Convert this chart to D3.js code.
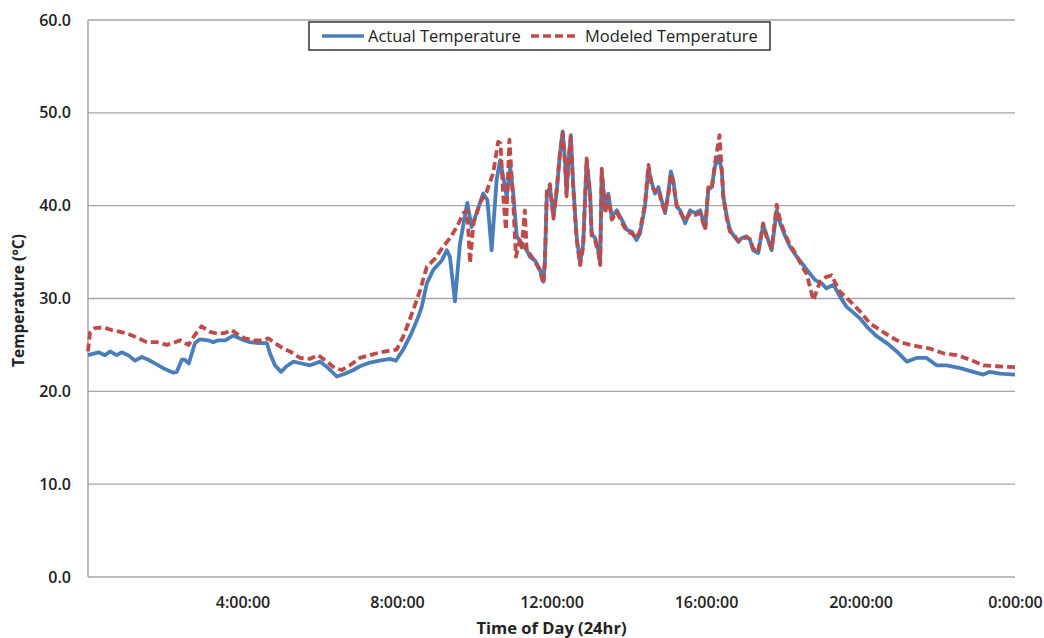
<!DOCTYPE html>
<html>
<head>
<meta charset="utf-8">
<script src="https://cdn.jsdelivr.net/npm/d3@7"></script>
<style>
  body { margin: 0; background: #fff; }
  svg text { font-family: "Open Sans", "DejaVu Sans", sans-serif; fill: #222; }
</style>
</head>
<body>
<svg id="chart" width="1044" height="638"></svg>
<script>
// hours since midnight, temperature in °C
const actualHours = [0, 0.27, 0.44, 0.57, 0.74, 0.87, 1.04, 1.22, 1.39, 1.56, 1.78, 1.99, 2.21, 2.3, 2.43, 2.51, 2.61, 2.77, 2.9, 3.11, 3.24, 3.37, 3.55, 3.76, 3.98, 4.19, 4.41, 4.63, 4.71, 4.84, 5.0, 5.14, 5.32, 5.53, 5.75, 6.01, 6.22, 6.44, 6.65, 6.87, 7.04, 7.3, 7.55, 7.82, 7.97, 8.16, 8.38, 8.55, 8.64, 8.77, 8.94, 9.16, 9.29, 9.37, 9.5, 9.63, 9.82, 9.93, 10.06, 10.23, 10.34, 10.45, 10.58, 10.67, 10.75, 10.84, 10.93, 11.01, 11.1, 11.23, 11.36, 11.44, 11.57, 11.7, 11.79, 11.83, 11.88, 11.96, 12.05, 12.13, 12.22, 12.29, 12.35, 12.39, 12.43, 12.5, 12.56, 12.65, 12.74, 12.82, 12.91, 13.0, 13.04, 13.13, 13.21, 13.26, 13.3, 13.39, 13.47, 13.56, 13.69, 13.82, 13.95, 14.08, 14.2, 14.29, 14.42, 14.51, 14.6, 14.68, 14.77, 14.85, 14.94, 15.02, 15.09, 15.15, 15.24, 15.33, 15.46, 15.59, 15.72, 15.85, 15.98, 16.06, 16.15, 16.23, 16.33, 16.41, 16.45, 16.54, 16.62, 16.71, 16.84, 16.92, 17.05, 17.14, 17.22, 17.35, 17.48, 17.57, 17.7, 17.83, 17.92, 18.05, 18.17, 18.35, 18.48, 18.61, 18.82, 19.0, 19.12, 19.3, 19.47, 19.64, 19.81, 20.0, 20.2, 20.4, 20.68, 20.94, 21.2, 21.45, 21.71, 21.97, 22.23, 22.58, 22.92, 23.18, 23.35, 23.61, 24.0];
const actualTemp = [23.9, 24.2, 23.9, 24.3, 23.9, 24.2, 23.9, 23.3, 23.7, 23.4, 22.9, 22.4, 22.0, 22.1, 23.4, 23.4, 23.0, 25.2, 25.6, 25.5, 25.3, 25.5, 25.5, 26.0, 25.6, 25.3, 25.2, 25.2, 24.1, 22.8, 22.1, 22.7, 23.2, 23.0, 22.8, 23.2, 22.5, 21.6, 21.9, 22.3, 22.7, 23.1, 23.3, 23.5, 23.3, 24.5, 26.3, 28.0, 29.1, 31.6, 33.1, 34.1, 35.2, 34.5, 29.7, 35.9, 40.3, 37.7, 39.2, 41.3, 40.6, 35.2, 42.8, 44.9, 43.1, 41.0, 44.2, 41.3, 36.7, 35.9, 35.2, 34.5, 34.1, 33.1, 31.8, 34.1, 41.3, 42.0, 38.8, 41.3, 45.6, 48.0, 44.9, 41.3, 44.2, 47.6, 42.4, 36.7, 33.8, 35.9, 44.9, 41.3, 37.0, 36.5, 35.2, 33.8, 43.7, 39.5, 41.3, 38.8, 39.5, 38.5, 37.4, 37.2, 36.3, 37.0, 39.9, 44.0, 42.4, 41.3, 42.0, 40.6, 39.2, 41.3, 43.7, 42.8, 39.9, 39.5, 38.1, 39.5, 39.2, 39.5, 37.6, 41.7, 42.0, 44.2, 45.3, 43.8, 41.0, 38.8, 37.4, 36.8, 36.1, 36.5, 36.7, 36.3, 35.2, 34.9, 37.9, 36.8, 35.2, 39.5, 38.1, 36.7, 35.6, 34.5, 33.8, 33.1, 32.0, 31.6, 31.1, 31.5, 30.2, 29.1, 28.5, 27.8, 26.8, 26.0, 25.2, 24.3, 23.2, 23.6, 23.6, 22.8, 22.8, 22.5, 22.1, 21.8, 22.1, 21.9, 21.8];

const modeledHours = [0, 0.05, 0.18, 0.4, 0.61, 0.83, 1.04, 1.26, 1.52, 1.78, 2.04, 2.21, 2.38, 2.6, 2.77, 2.94, 3.16, 3.37, 3.55, 3.72, 3.89, 4.06, 4.28, 4.5, 4.67, 4.84, 5.06, 5.23, 5.49, 5.75, 5.96, 6.18, 6.39, 6.57, 6.78, 7.04, 7.3, 7.56, 7.82, 7.99, 8.16, 8.3, 8.45, 8.6, 8.77, 8.98, 9.2, 9.37, 9.55, 9.72, 9.82, 9.89, 9.98, 10.15, 10.32, 10.49, 10.62, 10.68, 10.75, 10.82, 10.91, 11.0, 11.08, 11.18, 11.23, 11.31, 11.36, 11.44, 11.57, 11.7, 11.79, 11.83, 11.88, 11.96, 12.05, 12.13, 12.22, 12.29, 12.35, 12.39, 12.43, 12.5, 12.56, 12.65, 12.74, 12.82, 12.91, 13.0, 13.04, 13.13, 13.21, 13.26, 13.3, 13.39, 13.47, 13.56, 13.69, 13.82, 13.95, 14.08, 14.2, 14.29, 14.42, 14.51, 14.6, 14.68, 14.77, 14.85, 14.94, 15.02, 15.09, 15.15, 15.24, 15.33, 15.46, 15.59, 15.72, 15.85, 15.98, 16.06, 16.15, 16.23, 16.35, 16.41, 16.45, 16.54, 16.62, 16.71, 16.84, 16.92, 17.05, 17.14, 17.22, 17.35, 17.48, 17.57, 17.7, 17.83, 17.92, 18.05, 18.17, 18.35, 18.48, 18.61, 18.78, 18.95, 19.1, 19.25, 19.47, 19.73, 19.99, 20.25, 20.51, 20.77, 21.03, 21.29, 21.54, 21.8, 22.14, 22.49, 22.84, 23.18, 23.53, 24.0];
const modeledTemp = [24.3, 26.3, 26.8, 26.9, 26.6, 26.4, 26.2, 25.8, 25.3, 25.3, 25.0, 25.2, 25.5, 25.0, 26.1, 27.0, 26.4, 26.2, 26.3, 26.6, 26.1, 25.7, 25.5, 25.5, 25.7, 25.2, 24.6, 24.3, 23.6, 23.5, 23.9, 23.2, 22.5, 22.3, 22.8, 23.6, 23.9, 24.2, 24.4, 24.5, 25.9, 27.4, 29.1, 30.9, 33.4, 34.3, 35.6, 36.5, 37.7, 39.2, 39.5, 33.8, 38.1, 40.3, 41.5, 43.5, 46.9, 46.7, 41.0, 37.4, 47.1, 41.0, 34.5, 36.3, 35.5, 39.5, 35.0, 34.8, 34.0, 33.0, 31.6, 34.0, 41.8, 42.3, 38.6, 41.6, 45.8, 47.8, 44.5, 41.0, 44.5, 47.4, 42.0, 36.4, 33.6, 35.6, 45.1, 41.0, 36.8, 36.2, 35.0, 33.6, 44.0, 39.2, 41.0, 38.5, 39.3, 38.2, 37.2, 37.0, 36.5, 37.3, 40.2, 44.4, 42.0, 41.6, 41.8, 40.3, 39.4, 41.0, 43.4, 42.5, 40.1, 39.3, 38.4, 39.2, 39.0, 39.2, 37.4, 42.0, 41.8, 44.5, 47.6, 43.5, 40.8, 38.6, 37.2, 36.9, 36.2, 36.4, 36.6, 36.4, 35.4, 35.0, 38.1, 36.6, 35.4, 40.1, 38.4, 36.9, 35.8, 34.6, 33.5, 32.6, 29.8, 31.8, 32.3, 32.5, 30.7, 29.7, 28.6, 27.3, 26.6, 25.9, 25.3, 25.0, 24.8, 24.6, 24.1, 23.9, 23.4, 22.8, 22.7, 22.6];

const xTicks = [4, 8, 12, 16, 20, 24];
const xTickLabels = ["4:00:00", "8:00:00", "12:00:00", "16:00:00", "20:00:00", "0:00:00"];
const yTicks = [0, 10, 20, 30, 40, 50, 60];

const svg = d3.select("#chart");
const margin = { left: 88, right: 29, top: 20, bottom: 61 };
const W = 1044, H = 638;

const x = d3.scaleLinear().domain([0, 24]).range([margin.left, W - margin.right]);
const y = d3.scaleLinear().domain([0, 60]).range([H - margin.bottom, margin.top]);

// horizontal gridlines
svg.append("g")
  .selectAll("line")
  .data(yTicks)
  .join("line")
  .attr("x1", x(0)).attr("x2", x(24))
  .attr("y1", d => y(d)).attr("y2", d => y(d))
  .attr("stroke", "#aaa4a4")
  .attr("stroke-width", 1.3);

// left axis line
svg.append("line")
  .attr("x1", x(0)).attr("x2", x(0))
  .attr("y1", y(0)).attr("y2", y(60))
  .attr("stroke", "#999")
  .attr("stroke-width", 1.3);

// y tick labels
const yAxis = d3.axisLeft(y).tickValues(yTicks).tickFormat(d3.format(".1f")).tickSize(0).tickPadding(17);
svg.append("g")
  .attr("transform", `translate(${x(0)},0)`)
  .call(yAxis)
  .call(g => g.select(".domain").remove())
  .selectAll("text")
  .attr("font-size", 16)
  .attr("font-weight", 600)
  .attr("font-family", "'Open Sans', sans-serif")
  .attr("fill", "#222");

// x tick labels
const xAxis = d3.axisBottom(x).tickValues(xTicks).tickFormat((d, i) => xTickLabels[i]).tickSize(0).tickPadding(20);
svg.append("g")
  .attr("transform", `translate(0,${y(0)})`)
  .call(xAxis)
  .call(g => g.select(".domain").remove())
  .selectAll("text")
  .attr("font-size", 16)
  .attr("font-weight", 600)
  .attr("font-family", "'Open Sans', sans-serif")
  .attr("fill", "#222");

// axis titles
svg.append("text")
  .attr("x", x(12)).attr("y", 634)
  .attr("text-anchor", "middle")
  .attr("font-size", 16.5)
  .attr("font-weight", 700)
  .text("Time of Day (24hr)");

svg.append("text")
  .attr("transform", `translate(24,${y(30) + 2}) rotate(-90)`)
  .attr("text-anchor", "middle")
  .attr("font-size", 15.5)
  .attr("font-weight", 700)
  .text("Temperature (°C)");

// lines
const line = d3.line()
  .x(d => x(d[0]))
  .y(d => y(d[1]));

const actual = actualHours.map((h, i) => [h, actualTemp[i]]);
const modeled = modeledHours.map((h, i) => [h, modeledTemp[i]]);

svg.append("path")
  .datum(actual)
  .attr("d", line)
  .attr("fill", "none")
  .attr("stroke", "#4a7ebb")
  .attr("stroke-width", 3.8)
  .attr("stroke-linejoin", "round");

svg.append("path")
  .datum(modeled)
  .attr("d", line)
  .attr("fill", "none")
  .attr("stroke", "#be4b48")
  .attr("stroke-width", 3.8)
  .attr("stroke-dasharray", "8,4")
  .attr("stroke-linejoin", "round");

// legend
const legend = svg.append("g").attr("transform", "translate(309,22)");
legend.append("rect")
  .attr("width", 461).attr("height", 28)
  .attr("fill", "#fff")
  .attr("stroke", "#333")
  .attr("stroke-width", 1.5);
legend.append("line")
  .attr("x1", 13).attr("x2", 55).attr("y1", 14).attr("y2", 14)
  .attr("stroke", "#4a7ebb").attr("stroke-width", 3.5);
legend.append("text")
  .attr("x", 59).attr("y", 20)
  .attr("font-size", 16.5)
  .text("Actual Temperature");
legend.append("line")
  .attr("x1", 222).attr("x2", 270).attr("y1", 14).attr("y2", 14)
  .attr("stroke", "#be4b48").attr("stroke-width", 3.5)
  .attr("stroke-dasharray", "8,4");
legend.append("text")
  .attr("x", 276).attr("y", 20)
  .attr("font-size", 16.5)
  .text("Modeled Temperature");
</script>
</body>
</html>
